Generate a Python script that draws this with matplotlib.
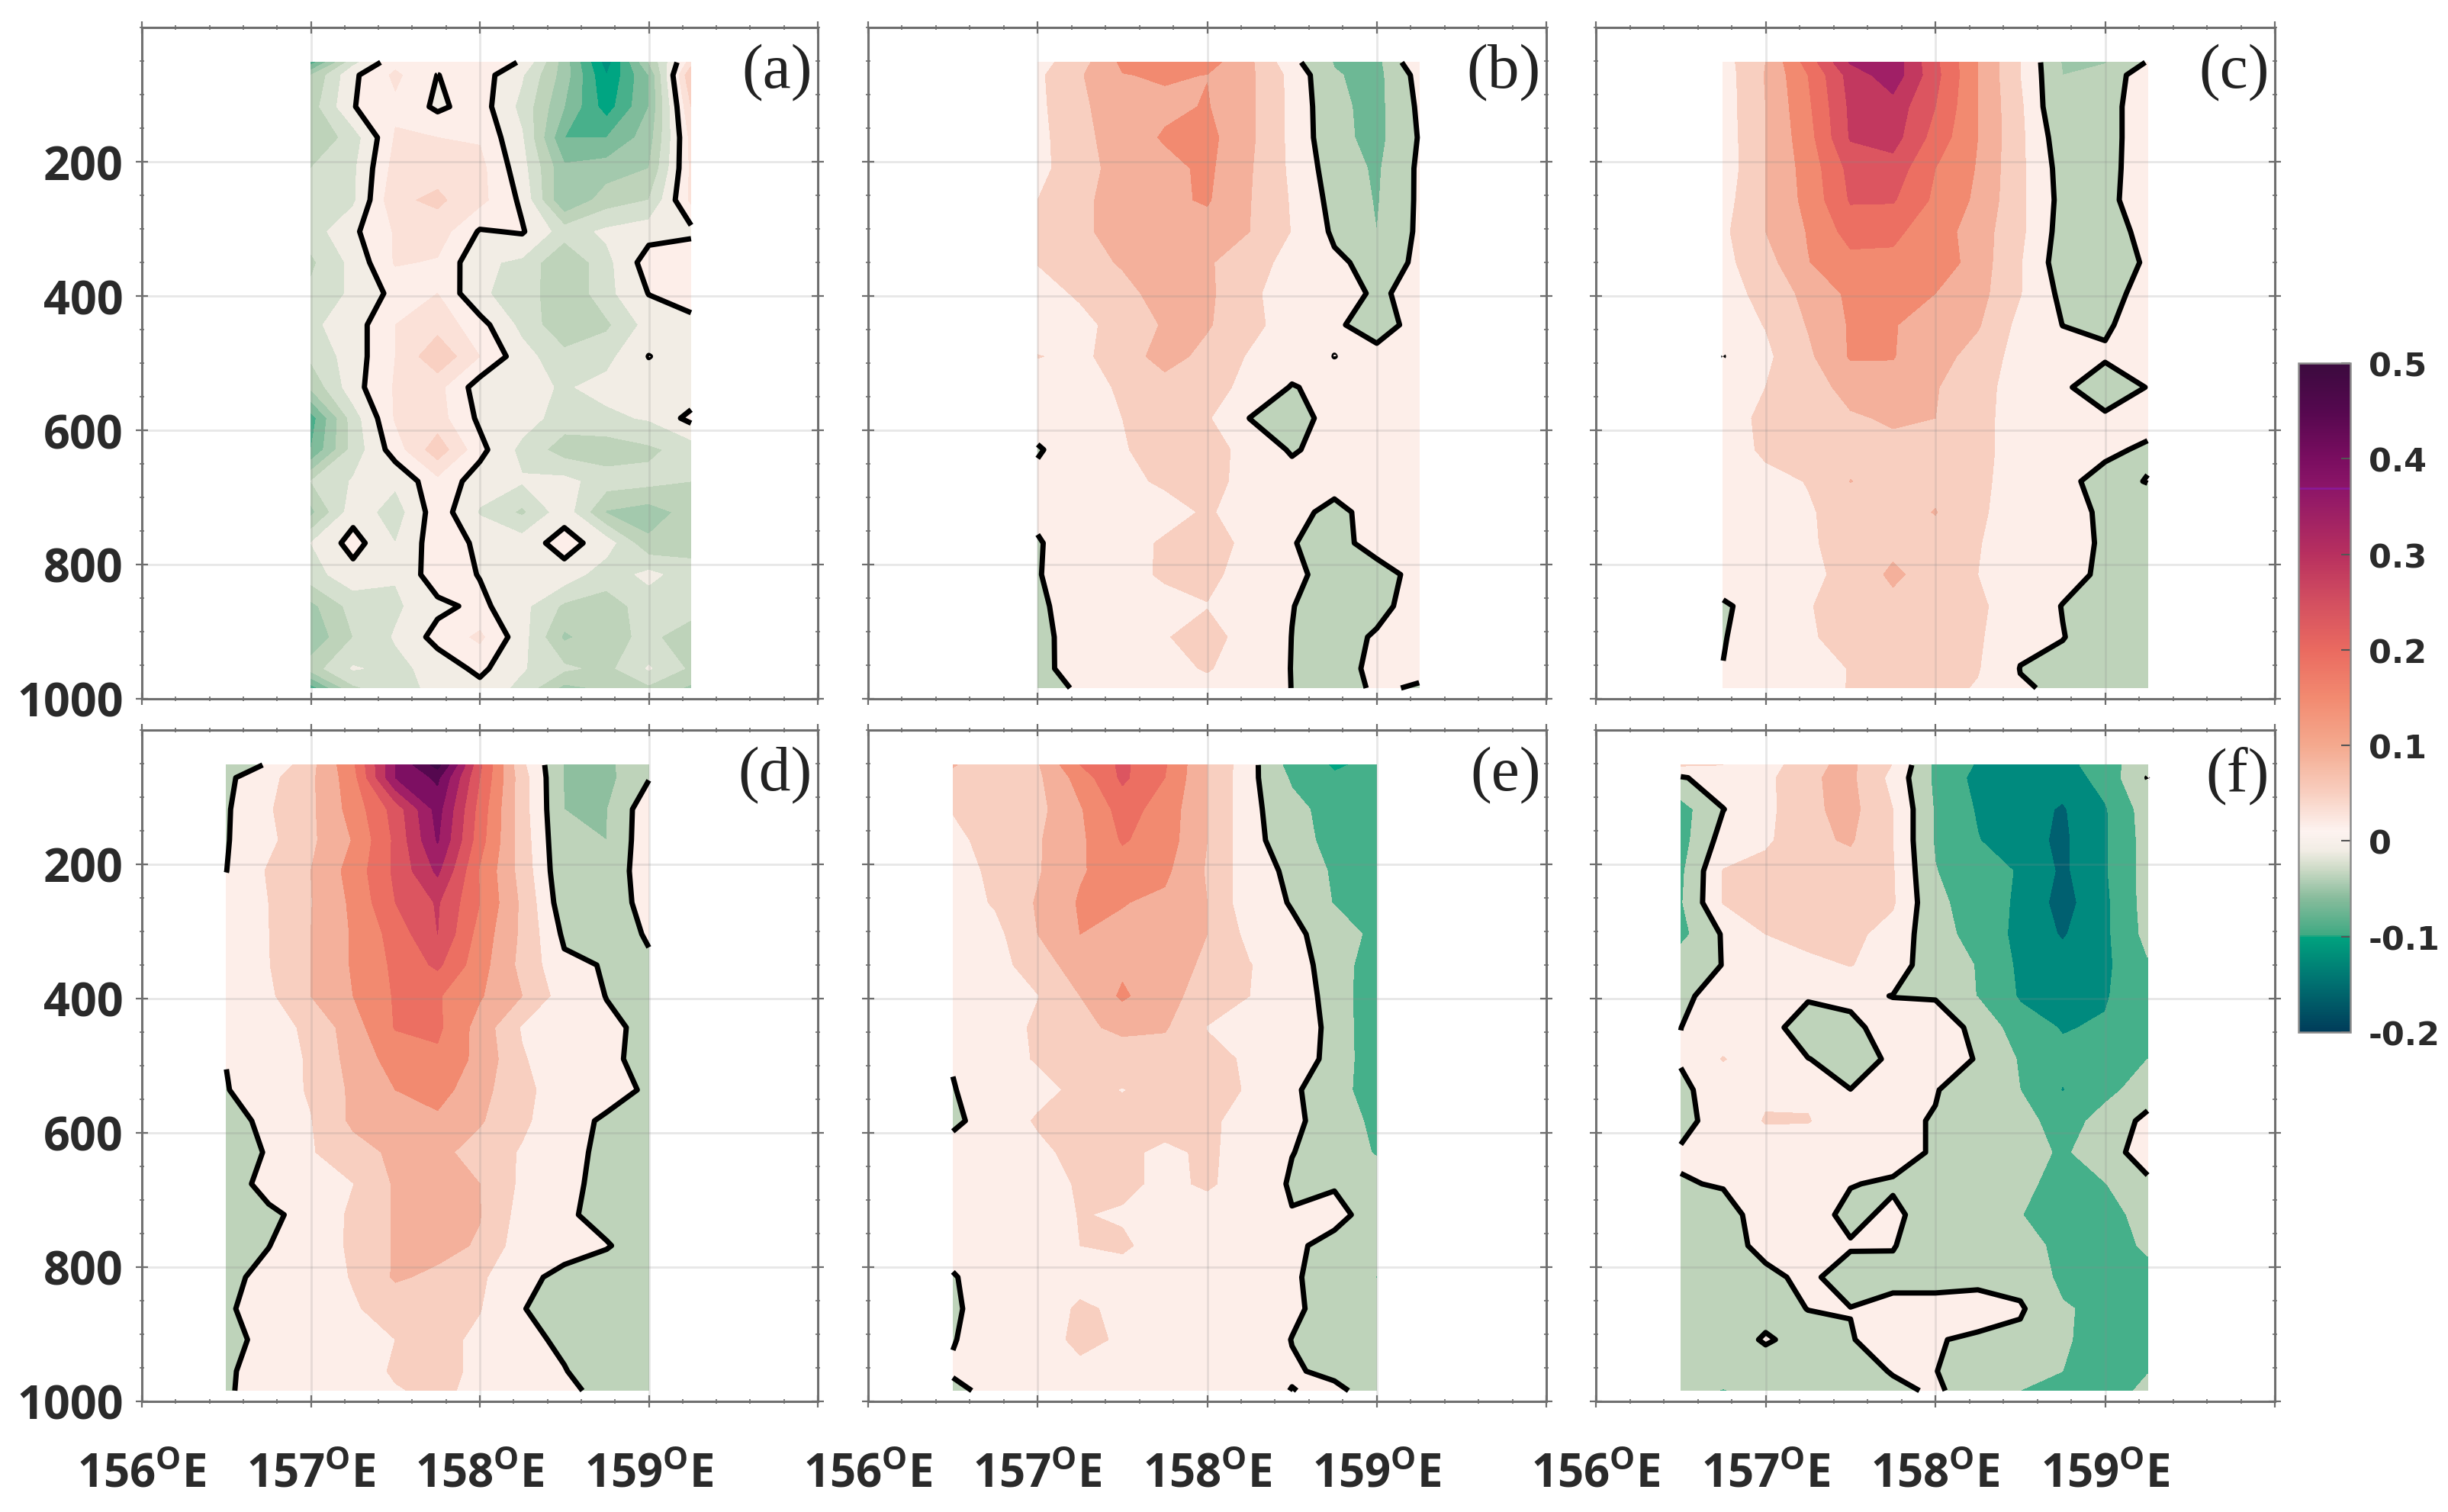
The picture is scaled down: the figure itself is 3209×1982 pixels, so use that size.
#!/usr/bin/env python3
"""Depth-longitude sections, six panels sharing one colour bar"""

import matplotlib
matplotlib.use('Agg')
import matplotlib.pyplot as plt
import numpy as np
from matplotlib.cm import ScalarMappable
from matplotlib.colors import LinearSegmentedColormap, Normalize
from matplotlib.ticker import MultipleLocator

depth = [52, 71, 118, 164, 210, 257, 304, 350, 396, 443, 490, 536, 582, 629,
         676, 722, 768, 815, 862, 908, 955, 984]

lon_a = [157, 157.25, 157.5, 157.75, 158, 158.25, 158.5, 158.75, 159, 159.25]
lon_b = [157, 157.25, 157.5, 157.75, 158, 158.25, 158.5, 158.75, 159, 159.25]
lon_c = [156.75, 157, 157.25, 157.5, 157.75, 158, 158.25, 158.5, 158.75, 159, 159.25]
lon_d = [156.5, 156.75, 157, 157.25, 157.5, 157.75, 158, 158.25, 158.5, 158.75, 159]
lon_e = [156.5, 156.75, 157, 157.25, 157.5, 157.75, 158, 158.25, 158.5, 158.75, 159]
lon_f = [156.5, 156.75, 157, 157.25, 157.5, 157.75, 158, 158.25, 158.5, 158.75, 159, 159.25]

# all values below are in units of 0.01
panel_a = [
    [-5.5, -1.3, .7, .5, .7, -.1, -3.5, -7.5, -3, 1.5],
    [-3, -.2, 1.2, -.02, .5, -.9, -3.5, -7, -4, 3],
    [-2.5, -.05, .8, -.2, .5, -1.3, -4, -6.5, -4, 2],
    [-3, -1.5, 1.1, 1, .9, -.9, -5, -5, -3.5, 1.3],
    [-2, -1.2, 1.4, 1.6, 1.3, -.6, -3.8, -3.5, -3, 1.2],
    [-1.5, -1.2, 1.8, 2.2, 1.3, -.2, -4, -2.5, -2, 1.2],
    [-1.5, -.2, 1.1, 1.5, -.1, .1, -1.5, -.8, -.4, -.3],
    [-2.2, -.7, 1.1, .9, -.8, -1.2, -3, -1.3, .5, 1],
    [-1.8, -.8, .3, 1, -.9, -1.3, -3, -1.3, .03, .8],
    [-1.2, -.5, 1, 1.6, .4, -1.3, -2.8, -2.2, -.6, -.5],
    [-1.8, -.5, 1, 2.8, 1, -.6, -1.7, -1.3, .02, -.5],
    [-2.8, -.4, 1.1, 1.3, -.5, -.7, -1.1, -.7, -.5, -.8],
    [-5.5, -1.5, 1.1, 1.4, -.2, -.5, -1.5, -1.2, -.9, .3],
    [-5, -1.6, .5, 2.6, .3, -1.3, -2.5, -2.6, -2.2, -1.6],
    [-2, -.9, -.8, .7, -.5, -.9, -.7, -1.5, -1.7, -2],
    [-3.3, -.4, -1.5, .6, -1.1, -2.2, -.4, -3.1, -3.5, -2.6],
    [-1, .4, -1, .6, -.2, -.5, .4, -.5, -2.8, -2.4],
    [-1.4, -.4, -.9, .6, -.05, -.9, -.4, -1.6, -.7, -1.6],
    [-3.3, -1.6, -1.2, -.25, .25, -.7, -2.2, -2.4, -1.6, -1.6],
    [-3.8, -2, -.9, .35, 1.2, -.6, -3.2, -2.3, -1.8, -2.5],
    [-2.5, -.9, -1.3, -.6, .25, -.9, -1.8, -2.3, -.9, -2.2],
    [-5.5, -2.2, -1.3, -.8, -.3, -1.3, -3.3, -2.8, -2.2, -3.2],
]

panel_b = [
    [3, 8, 16, 18, 17, 11, 1.5, -5.3, -6.5, 4.5],
    [4, 9.5, 14.8, 15.5, 14.9, 11, 3.5, -4.6, -6.5, 1.7],
    [3.8, 9, 13, 14, 15.3, 11, 3.7, -3.9, -6.5, .8],
    [3.5, 8.5, 12.5, 15.5, 16.5, 11, 3.7, -3.6, -6.5, .3],
    [3.5, 8, 12, 13.5, 16, 10.5, 4, -2.5, -5.7, .8],
    [5, 8.7, 12.5, 14, 15.5, 10.2, 4.5, -1.6, -5.4, .8],
    [5.5, 9, 12, 13, 13, 10, 4.8, -.8, -5, .9],
    [5.2, 8, 10.5, 12.5, 10.5, 7.5, 3, .8, -1.4, .5],
    [3, 5.7, 8.5, 12, 11, 6, 2.5, .9, -.3, .6],
    [1.5, 3.5, 7, 10.5, 10.5, 6.5, 2.5, .5, -1.4, 1.2],
    [5.2, 3.8, 7.5, 12, 8.5, 4.5, 2.5, -.02, 1, 1.5],
    [2, 3.5, 5.5, 8, 7, 3.5, -.3, 1.5, 2, 1.5],
    [1.5, 3, 5, 7, 5.5, -.05, -2, 1.8, 2, 1.5],
    [-.3, 1.8, 4.5, 7.5, 8, 2.5, -.4, 1.5, 2, 1.5],
    [.8, 2, 4, 5.6, 7, 3, 1.5, 1.2, 1.8, 1.5],
    [.8, 1.5, 2.5, 3.5, 5.5, 3, 1, -.9, 1.3, 1.5],
    [-.3, 2, 3.5, 5.5, 7.5, 3.5, .2, -1.6, 1.8, 1.5],
    [-.3, 3, 4, 5.4, 6.2, 3, .9, -1.5, -1.8, 1.4],
    [-.7, 1.8, 3, 4, 4.8, 3.5, .1, -1.6, -1.3, 2],
    [-.9, 1.4, 3, 4.7, 6.8, 3, -.05, -1.8, .5, 2],
    [-1, 1.5, 2.5, 3.5, 5.4, 2.5, -.1, -1.5, .9, .8],
    [-1.6, .5, 2, 2.5, 3.5, 2, -.05, -1.2, .4, -.3],
]

panel_c = [
    [3, 10, 22, 35.5, 38, 26, 15, 5, -5.4, -5.2, .3],
    [2.5, 10.3, 20, 32, 38, 26.5, 15, 5, -5, -3.5, 3.5],
    [2.5, 10, 19, 31, 33, 25, 15, 5.8, -5, -2, 3],
    [2.2, 10, 18, 30.5, 32, 23, 15, 6, -3, -2, 3],
    [2, 10, 17, 26.5, 28, 20, 14.6, 6, -1.9, -2, 3.3],
    [3, 10, 16.5, 25.5, 25.5, 19, 14, 6, -1.5, -1.8, 3.6],
    [4, 10, 15.3, 22, 21, 17.5, 12.5, 6, -2, -1.5, 1],
    [3.7, 8, 14.8, 18.5, 19, 18.5, 12.5, 5.3, -2.7, -3.5, .8],
    [3, 6.5, 11.5, 16, 16.5, 15, 11.8, 5.2, -1.2, -1.5, 1.5],
    [2.5, 5.2, 10.3, 15.5, 15.2, 13.5, 10.5, 3.5, -.05, -.4, 1.5],
    [-.02, 4, 9, 15.5, 15.2, 12, 8, 3, 1.5, .4, 1.5],
    [2, 5, 8, 11.5, 13.5, 10.3, 7, 2.5, .5, -1.7, .1],
    [2, 6.5, 8, 9.5, 10.5, 10, 7, 2, 1, .5, 1],
    [2, 6, 7.5, 8.5, 9, 8.5, 7, 2, 1, .5, -.4],
    [2, 3.5, 5.2, 10.1, 8, 8.5, 6.5, 2, .6, -.8, .1],
    [1.5, 2.5, 4.5, 7, 8, 10.2, 6, 2, .9, -.4, -1.5],
    [1.3, 2, 4.3, 7, 8.5, 8, 5.3, 2, .9, -.3, -1.5],
    [1.2, 1.8, 3.8, 6.5, 11, 7.5, 5, 1.8, 1.1, -.6, -1.5],
    [-.3, 1, 4.7, 7, 8.5, 8, 6, 2, -.1, -.05, -1.5],
    [-.15, 1.5, 4.5, 6.5, 8, 8, 5.7, .9, .1, -1.5, -1.5],
    [.05, 1.5, 3, 5.2, 7.5, 7, 5.3, -.1, -.8, -1.5, -1.5],
    [.5, 1.2, 2.5, 5.3, 7, 6.5, 4.6, .3, -.5, -1.5, -1.5],
]

panel_d = [
    [-3, .5, 8.5, 19, 40, 52, 26, 6, -5.2, -6, -1.5],
    [-1, 3.5, 9, 18, 40, 46, 25, 7, -5.3, -6.5, -.3],
    [-.5, 4.5, 9, 17, 27, 42, 23, 7, -5, -5.2, 3.3],
    [-.3, 3.8, 9, 15.3, 26, 40.5, 22, 7.5, -4.5, -5, 3.5],
    [-.05, 5.5, 10, 17, 26, 36, 19.5, 8, -4, -3.5, 3],
    [1, 5, 9.8, 16, 25, 30.5, 20, 9, -3, -3, 2],
    [1.5, 4.9, 10, 15.5, 22, 30, 18, 9, -.9, -3, .6],
    [1.5, 4.8, 10, 15.5, 21, 26, 17, 8.5, 1, -.3, -.8],
    [2, 4, 10, 15, 20.5, 20.5, 15.5, 10, 2.5, -.1, -1.5],
    [1.5, 3, 6, 12.8, 20.3, 21, 13, 4.5, 1.5, .7, -.8],
    [.1, 2.8, 5.5, 12, 17, 19, 13.5, 5.5, 1.5, .8, -1.2],
    [-.2, 2.5, 5.5, 11, 15, 17, 11.8, 6, 3, 1.6, -.6],
    [-1.5, 1, 4.8, 11, 12.5, 14, 10.5, 6, 1.5, -.6, -1.5],
    [-3, .5, 4.6, 8, 11, 11.3, 8, 4.5, .8, -.6, -1.5],
    [-1.9, 1.3, 3, 4.9, 10.6, 12.4, 10, 4, .7, -.8, -1.5],
    [-1.5, -.7, 1.2, 6, 10.5, 11, 10.2, 3, .5, -1, -1.5],
    [-1.5, -.05, 1.5, 6, 10.5, 11.5, 9.5, 2, .6, .2, -1.5],
    [-.5, .6, 2.5, 5.3, 10.6, 9, 6, .4, -.4, -1.5, -1.5],
    [-.2, .7, 2, 4.5, 7, 7.5, 5.2, .1, -1, -1.5, -1.5],
    [-1, 1, 2, 3, 5, 6.5, 4, .6, -.4, -1.5, -1.5],
    [-.5, 1.6, 2, 3, 5.5, 6.5, 4, 1, .1, -1.2, -1.5],
    [-.4, 1.6, 2, 2.8, 4.7, 5.8, 4, 1.2, .6, -.8, -1.5],
]

panel_e = [
    [10.5, 5.5, 9.5, 20, 26, 20.5, 10, 1.8, -7, -10.5, -9],
    [8, 6, 9, 17, 26, 20, 10, 1.5, -5.7, -9.5, -9],
    [5.2, 6, 8.5, 14.5, 22, 18, 10, 1.5, -3.5, -7, -8],
    [4, 6.5, 9.5, 14, 20.5, 17.5, 10, 1.5, -2.5, -7, -8],
    [3, 6, 9.5, 14.5, 17.5, 16, 9.5, 2, -.9, -5.8, -8],
    [2.5, 5.5, 10.5, 15.5, 15.2, 14, 10, 1.5, -.2, -5.3, -8],
    [1.5, 3.5, 10, 15, 14, 13, 10, 3.5, .6, -1.2, -7],
    [1.5, 2.8, 8, 12, 14, 12.5, 9, 5.2, 2, -2, -8.5],
    [1.3, 2.5, 4.8, 10, 15.8, 11.5, 8, 5, 3, -2, -9],
    [1, 2, 6, 9, 11, 10.5, 4.8, 2, 2.2, -1, -9.8],
    [.2, 2.5, 5.5, 7, 7.5, 7.5, 6.5, 4.3, 2.3, -1.3, -9.2],
    [-.15, 1.7, 3, 6.5, 4.8, 7, 7, 4.5, .4, -1.4, -9.9],
    [-.5, 1.2, 5.7, 7, 6.5, 7, 6, 3, .7, -1.5, -6.6],
    [1, 2, 3.5, 7, 6, 4, 5.8, 3, .1, -1.5, -5.5],
    [1.2, 2, 3, 5.5, 6, 4, 5.6, 3, -.5, -.3, -2],
    [1.5, 2, 2.5, 5.2, 4.5, 3, 3, 2, .2, 1, -1.5],
    [1, 1.5, 2, 5, 5.7, 3, 3, 2, .6, -1, -1.8],
    [-.2, 1.5, 2, 3, 3, 3, 2.5, 1.5, .3, -1, -5.2],
    [-.3, 1, 2, 5.8, 4, 3, 2.5, 1.5, .4, -.9, -1.5],
    [-.1, 1, 3, 6, 4.5, 3, 2.5, 1.5, -.05, -1, -1.5],
    [.2, 1, 2, 4, 4, 3, 2.5, 1.5, .2, -.4, -1.5],
    [-.4, .5, 1.5, 2, 2, 2, 2, .8, -.05, .4, -.8],
]

panel_f = [
    [5.5, 5, 2, 9, 11, 4.8, -6, -10.5, -12, -12, -7, -2],
    [-.5, 2.4, 3.5, 9.5, 11, 3.5, -6, -11.5, -12.5, -13, -8, .1],
    [-7, -.1, 3.5, 9, 11.5, 5, -5.5, -10.5, -13, -15.5, -10.5, -2.5],
    [-7, 2, 4, 9, 10.5, 5, -5.5, -9.8, -13, -16, -10.5, -3],
    [-6, 5.2, 7, 8, 8, 5.3, -4.8, -8.5, -10.3, -16, -10.5, -3],
    [-5.5, 5.2, 7, 8, 5.5, 5.5, -4, -7, -11, -17, -11, -3],
    [-6.5, .5, 5, 7, 6, 3.5, -3.5, -6.5, -11.5, -15.5, -11, -3.5],
    [-2, .1, 2, 3.5, 5.2, 2.5, -3, -5.2, -11, -13, -11, -5.5],
    [-1, 2, 2, .3, 1, -.1, -.3, -5.2, -10.5, -13, -10.5, -6],
    [-.02, 1.5, 1, -1.3, -1, 1.9, 2, -1, -8, -10.3, -9.5, -6],
    [.2, 5.3, 1.5, .05, -.8, .3, 1.5, -.2, -5.5, -9, -7, -5],
    [-.5, 1.2, 4, 4, .02, .1, .3, -3, -5, -10.2, -6.5, -2.5],
    [-.6, .9, 5.4, 5.3, 1.5, 1, -.3, -1.5, -3, -7.5, -3, 1.2],
    [.2, 1, 1.8, 1.5, 1, 1, -.3, -1.5, -2, -6, -1.2, 1.3],
    [-.1, .1, 1, 1, .1, -.3, -1.5, -1.5, -4.3, -6, -5.2, -.5],
    [-1.5, -.5, .6, 1, -.6, .5, -1.2, -1.5, -4.9, -6.5, -6, -4],
    [-1.5, -.7, .5, 1, .2, .1, -1.2, -1.5, -3.5, -6, -6.5, -4.5],
    [-1.5, -1.5, -.4, .4, -.9, -.5, -1, -1, -1.8, -6, -8, -6],
    [-1.5, -1.5, -1, .05, .05, .5, 1, 1.5, .6, -4.6, -6, -6],
    [-1.5, -1.5, .3, -1, -.1, .8, .2, -.5, -1.2, -4.7, -6, -5.5],
    [-1.5, -1.5, -1.5, -1.5, -1, .15, .05, -1, -1.5, -5, -6, -5.1],
    [-2, -5.4, -2, -1.5, -1, -.5, .3, -1, -5.05, -5.3, -6, -4.5],
]

panel_names = ['(a)', '(b)', '(c)', '(d)', '(e)', '(f)']
x_ticks = [156, 157, 158, 159, 160]
x_labels = ['156', '157', '158', '159']
y_labels = ['200', '400', '600', '800', '1000']
bar_ticks = [-0.2, -0.1, 0, 0.1, 0.2, 0.3, 0.4, 0.5]
bar_labels = ['-0.2', '-0.1', '0', '0.1', '0.2', '0.3', '0.4', '0.5']

WARM = ['#fdeee9', '#f8cfc0', '#f4b09b', '#f28a70', '#ec6f62', '#dc5560',
        '#c2385f', '#a01f66', '#7d0f62', '#55084f', '#3d0a45']
INK = '#2a2a2a'
FRAME = '#6e6e6e'
W, H = 3209, 1983


def rect(left, top, right, bottom):
    """Axes box from pixel edges"""
    return [left / W, 1 - bottom / H, (right - left) / W, (bottom - top) / H]


def draw_panel(ax, lon, values, levels, colors, name):
    """Filled bands, zero line, grid and ticks of one panel"""
    z = np.array(values)
    ax.contourf(lon, depth, z, levels=levels, colors=colors, zorder=1)
    ax.contour(lon, depth, z, levels=[0], colors='black', linewidths=5,
               zorder=3)
    ax.set_xlim(156, 160)
    ax.set_ylim(1000, 0)
    ax.set_xticks(x_ticks)
    ax.set_yticks([200, 400, 600, 800, 1000])
    ax.xaxis.set_minor_locator(MultipleLocator(0.2))
    ax.yaxis.set_minor_locator(MultipleLocator(50))
    ax.grid(True, which='major', color='#8a8a8a', alpha=0.2, lw=2, zorder=2)
    ax.set_axisbelow(False)
    ax.tick_params(which='major', direction='inout', length=11, width=1.6,
                   color=FRAME, top=True, right=True, labelbottom=False,
                   labelleft=False)
    ax.tick_params(which='minor', direction='inout', length=5, width=1.2,
                   color=FRAME, top=True, right=True)
    for spine in ax.spines.values():
        spine.set_color(FRAME)
        spine.set_linewidth(2.2)
    ax.text(0.992, 0.933, name, transform=ax.transAxes, ha='right', va='center',
            family='Liberation Serif', fontsize=60, color='#222222', zorder=5)


def main():
    """Build the figure"""
    plt.rcParams['mathtext.default'] = 'regular'
    fig = plt.figure(figsize=(W / 100, H / 100), dpi=100, facecolor='white')

    levels_a = [-9, -8, -7, -6, -5, -4, -3, -2, -1, 0, 1, 2, 3]
    colors_a = ['#007f7a', '#008f7e', '#00a582', '#48b08b', '#7fbc9b',
                '#a3c9ad', '#bed3ba', '#d5e0cf', '#f2ede5', '#fdeee9',
                '#fbe1d8', '#f9d0c2']
    levels_main = [-20, -15, -10, -5, 0, 5, 10, 15, 20, 25, 30, 35, 40, 45, 50, 55]

    boxes = [(186, 37, 1072, 917), (1138, 37, 2027, 917), (2092, 37, 2982, 917),
             (186, 958, 1072, 1838), (1138, 958, 2027, 1838), (2092, 958, 2982, 1838)]
    lons = [lon_a, lon_b, lon_c, lon_d, lon_e, lon_f]
    panels = [panel_a, panel_b, panel_c, panel_d, panel_e, panel_f]
    # the second green differs a little between panels in the original
    green_2 = [None, '#6db895', '#9bc6a8', '#8ebf9f', '#45b08a', '#45b08a']
    green_3 = [None, '#00a582', '#00a582', '#00a582', '#00a582', '#008a7e']

    axes = []
    for i, box in enumerate(boxes):
        ax = fig.add_axes(rect(*box))
        if i == 0:
            levels, colors = levels_a, colors_a
        else:
            levels = levels_main
            colors = ['#006070', green_3[i], green_2[i], '#bed3ba'] + WARM
        draw_panel(ax, lons[i], panels[i], levels, colors, panel_names[i])
        axes.append(ax)

    # tick labels only on the outer panels
    for ax in axes[:1] + axes[3:4]:
        ax.tick_params(axis='y', which='major', labelleft=True, pad=12)
        ax.set_yticklabels(y_labels, family='Open Sans', fontweight='bold',
                           fontsize=44, color=INK)
    for ax in axes[3:]:
        ax.tick_params(axis='x', which='major', labelbottom=True, pad=42)
        ax.set_xticklabels([s + '$^{O}$E' for s in x_labels] + [''],
                           family='Open Sans', fontweight='bold', fontsize=43,
                           color=INK)

    # colour bar
    anchors = [(-0.2, '#003c5a'), (-0.15, '#006f70'), (-0.1005, '#00a37f'),
               (-0.0995, '#3ea982'), (-0.06, '#88bc9c'), (-0.03, '#ccdac6'),
               (-0.01, '#f2ede5'), (0.01, '#fdf3f0'), (0.05, '#f8cfc0'),
               (0.1, '#f4a98e'), (0.15, '#f28a70'), (0.2, '#ea6a60'),
               (0.25, '#d34f60'), (0.3, '#b8305f'), (0.37, '#8c1568'),
               (0.4, '#7a0d60'), (0.45, '#55084f'), (0.5, '#3b0a3e')]
    cmap = LinearSegmentedColormap.from_list(
        'section', [((v + 0.2) / 0.7, c) for v, c in anchors], N=512)
    cax = fig.add_axes(rect(3013, 477, 3081, 1354))
    bar = fig.colorbar(ScalarMappable(Normalize(-0.2, 0.5), cmap), cax=cax)
    bar.set_ticks(bar_ticks)
    bar.set_ticklabels(bar_labels)
    bar.ax.tick_params(direction='in', length=9, width=1.5, color='#555555',
                       pad=17, labelsize=31, labelcolor=INK)
    for label in bar.ax.get_yticklabels():
        label.set_family('DejaVu Sans')
        label.set_fontweight('bold')
    bar.outline.set_edgecolor('#8c8c8c')
    bar.outline.set_linewidth(1.8)
    bar.ax.axhline(0.369, color='#8a1a9a', lw=1.8)

    fig.savefig('out.png', dpi=100)


if __name__ == '__main__':
    main()
